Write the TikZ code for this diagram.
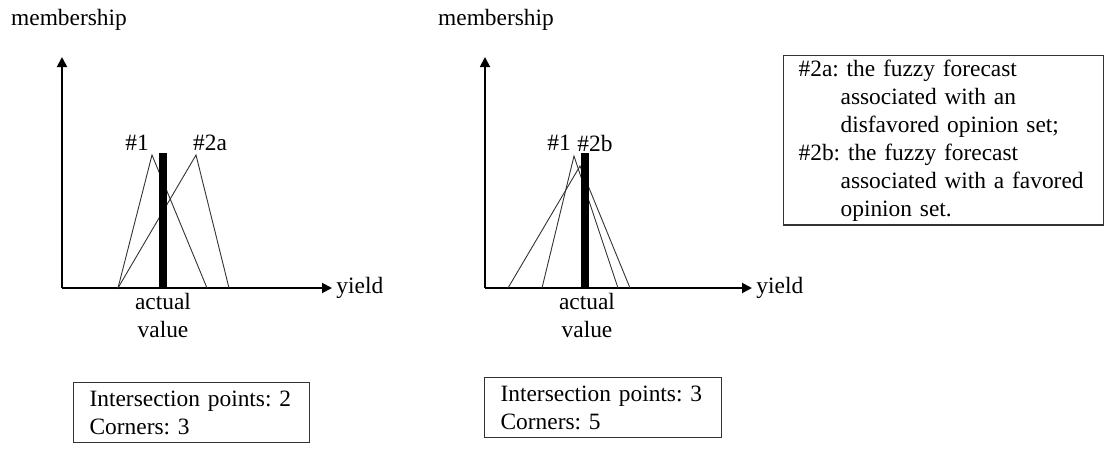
\documentclass[tikz,border=0pt]{standalone}
\usepackage{fontspec}
\setmainfont{Liberation Serif}
\usetikzlibrary{arrows.meta,positioning}
\tikzset{
  axisarrow/.style={-{Triangle[length=5pt,width=5pt]}, line width=0.9pt, draw=black},
  fuzzyline/.style={line width=0.45pt, draw=black!80, line join=miter},
  valuebar/.style={fill=black, draw=none},
  plainlabel/.style={inner sep=0pt, font=\fontsize{11.7}{14}\selectfont},
  infobox/.style={draw=black!80, line width=0.6pt, align=left, inner xsep=8pt, inner ysep=4pt, anchor=north west, font=\fontsize{11.7}{14}\selectfont}
}
\frenchspacing

\begin{document}
\begin{tikzpicture}[x=0.5pt, y=-0.5pt]
\useasboundingbox (0,0) rectangle (1112,455);
% left chart: #1 and #2a
\coordinate (o1) at (62,288);
\coordinate (ytop1) at (62,57);
\coordinate (xend1) at (332,288);
\draw[axisarrow] (o1) -- (ytop1);
\draw[axisarrow] (o1) -- (xend1);
\draw[fuzzyline] (118,288) -- (152,155) -- (207,288);
\draw[fuzzyline] (118,288) -- (196,155) -- (229,288);
\fill[valuebar] (159,153) rectangle (167,288);
\node[plainlabel] (mem1) at (69,20) {membership};
\node[plainlabel,right=2pt of xend1] (yield1) {yield};
\node[plainlabel] (one1) at (137,143) {\#1};
\node[plainlabel] (two1) at (210,143) {\#2a};
\node[plainlabel,align=center] (act1) at (163,315) {actual\\value};
% right chart: #1 and #2b
\coordinate (o2) at (485,288);
\coordinate (ytop2) at (485,57);
\coordinate (xend2) at (752,288);
\draw[axisarrow] (o2) -- (ytop2);
\draw[axisarrow] (o2) -- (xend2);
\draw[fuzzyline] (542,288) -- (574,156) -- (618,288);
\draw[fuzzyline] (508,288) -- (580,166) -- (630,288);
\fill[valuebar] (581,153) rectangle (589,288);
\node[plainlabel] (mem2) at (496,20) {membership};
\node[plainlabel,right=2pt of xend2] (yield2) {yield};
\node[plainlabel] (one2) at (559,143) {\#1};
\node[plainlabel] (two2) at (595,143) {\#2b};
\node[plainlabel,align=center] (act2) at (587,315) {actual\\value};
% boxes
\node[infobox,inner xsep=7.5pt,inner ysep=2pt,text width=145pt] (legend) at (783,55)
  {\#2a: the fuzzy forecast\\\hspace*{21pt}associated with an\\\hspace*{21pt}disfavored opinion set;\\
   \#2b: the fuzzy forecast\\\hspace*{21pt}associated with a favored\\\hspace*{21pt}opinion set.};
\node[infobox,text width=102pt] (info1) at (73,382) {Intersection points: 2\\Corners: 3};
\node[infobox,text width=102.5pt] (info2) at (484,377) {Intersection points: 3\\Corners: 5};
\end{tikzpicture}
\end{document}
